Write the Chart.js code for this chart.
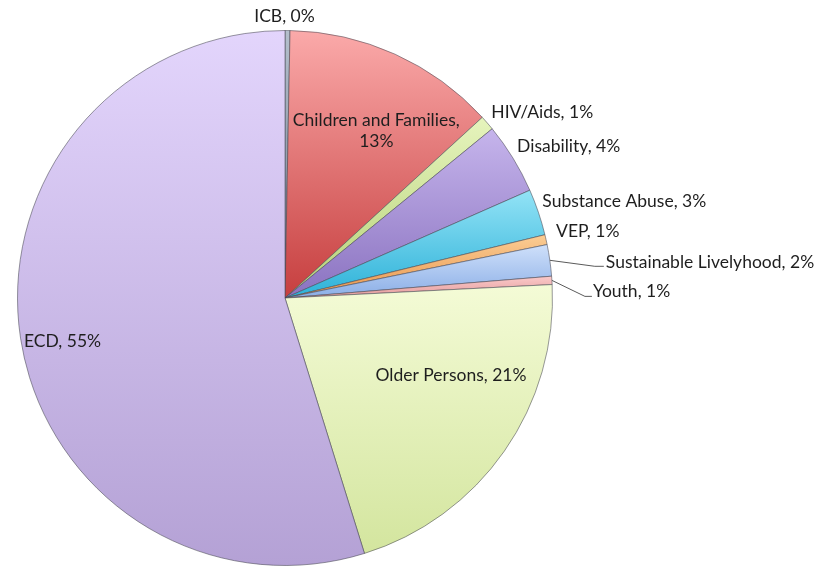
<!DOCTYPE html>
<html>
<head>
<meta charset="utf-8">
<script src="https://cdn.jsdelivr.net/npm/chart.js@4/dist/chart.umd.min.js"></script>
<style>
  html, body { margin: 0; padding: 0; background: #fff; }
  #wrap { width: 818px; height: 571px; }
</style>
</head>
<body>
<div id="wrap"><canvas id="pie"></canvas></div>
<script>
/* ─── Data ───────────────────────────────────────────────── */
const LABELS = ['ICB', 'Children and Families', 'HIV/Aids', 'Disability', 'Substance Abuse',
                'VEP', 'Sustainable Livelyhood', 'Youth', 'Older Persons', 'ECD'];
const VALUES = [0.3, 12.9, 0.9, 4.3, 2.8, 0.6, 1.9, 0.5, 21.0, 54.8];

/* ─── Slice colours (top → bottom of each slice) ─────────── */
const TOP_COLORS = ['#b4bfcc', '#fbaaaa', '#e6f4bd', '#c6b5ec', '#93e3f6', '#fbcd94',
                    '#cfe0fa', '#fbcaca', '#f4fbd6', '#e3d5fc'];
const BOT_COLORS = ['#6f7f92', '#c63e3e', '#b5d077', '#8a72c0', '#2cb1d8', '#e8934a',
                    '#89ade6', '#e29898', '#d3e59e', '#b4a1d5'];

/* ─── Label placement (relative to the slice) ────────────── */
// inside: point at fraction r of the radius on the mid angle, nudged by dx/dy
// outside: point on the rim at the mid angle, nudged by dx/dy, left aligned
const PLACE = [
  { out: true, align: 'center', dx: -3, dy: -14 },
  { r: 0.684, dx: 16, dy: 0, lines: ['Children and Families,', '13%'] },
  { out: true, dx: 4, dy: -11 },
  { out: true, dx: 4, dy: -12 },
  { out: true, dx: 4, dy: -11 },
  { out: true, dx: 10, dy: -8 },
  { out: true, dx: 56, dy: 2, leader: [[45, 6], [54, 6]] },
  { out: true, dx: 41, dy: 11, leader: [[33, 16], [40, 16]] },
  { r: 0.62, dx: 30, dy: -18 },
  { r: 0.83, dx: -3, dy: 10 }
];

const FONT = '17.5px Lato';
const TEXT_COLOR = '#1e1e1e';

function pct(i) {
  const total = VALUES.reduce((a, b) => a + b, 0);
  return Math.round(VALUES[i] / total * 100) + '%';
}

/* ─── Vertical gradient over each slice's own extent ─────── */
function sliceFill(c) {
  const i = c.dataIndex;
  const area = c.chart.chartArea;
  if (!area) return TOP_COLORS[i];
  const cx = (area.left + area.right) / 2;
  const cy = (area.top + area.bottom) / 2;
  const r = Math.min(area.width, area.height) / 2;
  const total = VALUES.reduce((a, b) => a + b, 0);
  const before = VALUES.slice(0, i).reduce((a, b) => a + b, 0);
  const a0 = -Math.PI / 2 + before / total * 2 * Math.PI;
  const a1 = a0 + VALUES[i] / total * 2 * Math.PI;
  const ys = [cy, cy + r * Math.sin(a0), cy + r * Math.sin(a1)];
  [Math.PI / 2, 3 * Math.PI / 2].forEach(k => { if (k > a0 && k < a1) ys.push(cy + r * Math.sin(k)); });
  const g = c.chart.ctx.createLinearGradient(0, Math.min(...ys), 0, Math.max(...ys) + 1);
  g.addColorStop(0, TOP_COLORS[i]);
  g.addColorStop(1, BOT_COLORS[i]);
  return g;
}

/* ─── Data labels plugin ─────────────────────────────────── */
const sliceLabels = {
  id: 'sliceLabels',
  afterDatasetsDraw(chart) {
    const ctx = chart.ctx;
    const arcs = chart.getDatasetMeta(0).data;
    ctx.save();
    ctx.font = FONT;
    ctx.fillStyle = TEXT_COLOR;
    ctx.textBaseline = 'middle';
    arcs.forEach((arc, i) => {
      const p = PLACE[i];
      const mid = (arc.startAngle + arc.endAngle) / 2;
      const rr = p.out ? arc.outerRadius : arc.outerRadius * p.r;
      const ex = arc.x + Math.cos(mid) * rr;
      const ey = arc.y + Math.sin(mid) * rr;
      const lines = p.lines || [LABELS[i] + ', ' + pct(i)];
      if (p.leader) {
        ctx.strokeStyle = '#5a5a5a';
        ctx.lineWidth = 1;
        ctx.beginPath();
        ctx.moveTo(ex, ey);
        p.leader.forEach(([lx, ly]) => ctx.lineTo(ex + lx, ey + ly));
        ctx.stroke();
      }
      ctx.textAlign = p.out ? (p.align || 'left') : 'center';
      const lh = 21;
      const y0 = ey + p.dy - (lines.length - 1) * lh / 2;
      lines.forEach((t, k) => ctx.fillText(t, ex + p.dx, y0 + k * lh));
    });
    ctx.restore();
  }
};

/* ─── Chart ──────────────────────────────────────────────── */
new Chart(document.getElementById('pie'), {
  type: 'pie',
  data: {
    labels: LABELS,
    datasets: [{
      data: VALUES,
      backgroundColor: sliceFill,
      borderColor: 'rgba(70,70,80,0.55)',
      borderWidth: 1
    }]
  },
  options: {
    responsive: true,
    maintainAspectRatio: false,
    animation: false,
    layout: { padding: { left: 17, top: 30, right: 265, bottom: 5 } },
    plugins: {
      legend: { display: false },
      tooltip: { enabled: false }
    }
  },
  plugins: [sliceLabels]
});
</script>
</body>
</html>
